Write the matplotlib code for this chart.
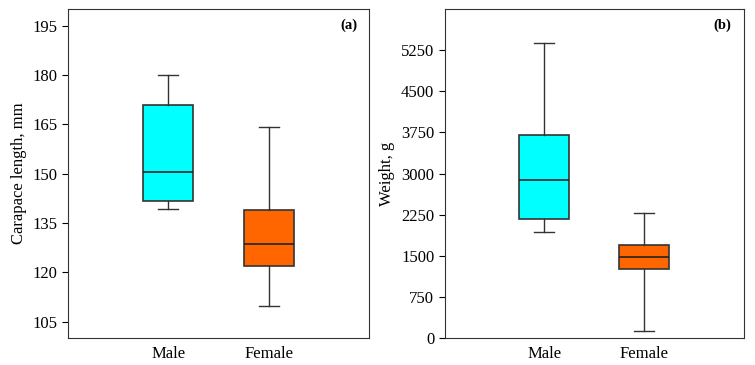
import matplotlib
matplotlib.use("Agg")
import matplotlib.pyplot as plt

plt.rcParams['font.family'] = ['Liberation Serif', 'DejaVu Serif']

groups = ["Male", "Female"]
colors = ["#00FFFF", "#FF6600"]

# carapace length, mm: whislo, q1, median, q3, whishi
length_male = [139.1, 141.8, 150.4, 170.8, 180.0]
length_female = [109.7, 121.8, 128.5, 138.9, 164.3]

# weight, g
weight_male = [1940, 2165, 2875, 3700, 5390]
weight_female = [120, 1267, 1485, 1697, 2280]


def make_stats(vals, label):
    return dict(label=label, whislo=vals[0], q1=vals[1], med=vals[2],
                q3=vals[3], whishi=vals[4], fliers=[])


def draw(ax, data, ylim, yticks, ylabel, tag):
    stats = [make_stats(v, g) for v, g in zip(data, groups)]
    bp = ax.bxp(stats, positions=[1, 2], widths=0.5, patch_artist=True,
                showfliers=False,
                boxprops=dict(edgecolor="#333333", linewidth=1.2),
                medianprops=dict(color="#222222", linewidth=1.2),
                whiskerprops=dict(color="#333333", linewidth=1.0),
                capprops=dict(color="#333333", linewidth=1.0),
                capwidths=0.2)
    for patch, c in zip(bp["boxes"], colors):
        patch.set_facecolor(c)
    ax.set_xlim(0, 3)
    ax.set_ylim(*ylim)
    ax.set_yticks(yticks)
    ax.set_ylabel(ylabel, fontsize=12)
    ax.tick_params(axis="x", length=0, labelsize=12, pad=6)
    ax.tick_params(axis="y", labelsize=12, direction="out", length=4)
    for s in ax.spines.values():
        s.set_color("#333333")
    ax.text(0.96, 0.95, tag, transform=ax.transAxes, ha="right", va="center",
            fontsize=10.5, fontweight="bold")


fig = plt.figure(figsize=(7.55, 3.65), dpi=100)
ax1 = fig.add_axes([0.090, 0.074, 0.399, 0.901])
ax2 = fig.add_axes([0.589, 0.074, 0.396, 0.901])

draw(ax1, [length_male, length_female], (100, 200),
     [105, 120, 135, 150, 165, 180, 195], "Carapace length, mm", "(a)")
draw(ax2, [weight_male, weight_female], (0, 6000),
     [0, 750, 1500, 2250, 3000, 3750, 4500, 5250], "Weight, g", "(b)")

fig.savefig("out.png", dpi=100)
